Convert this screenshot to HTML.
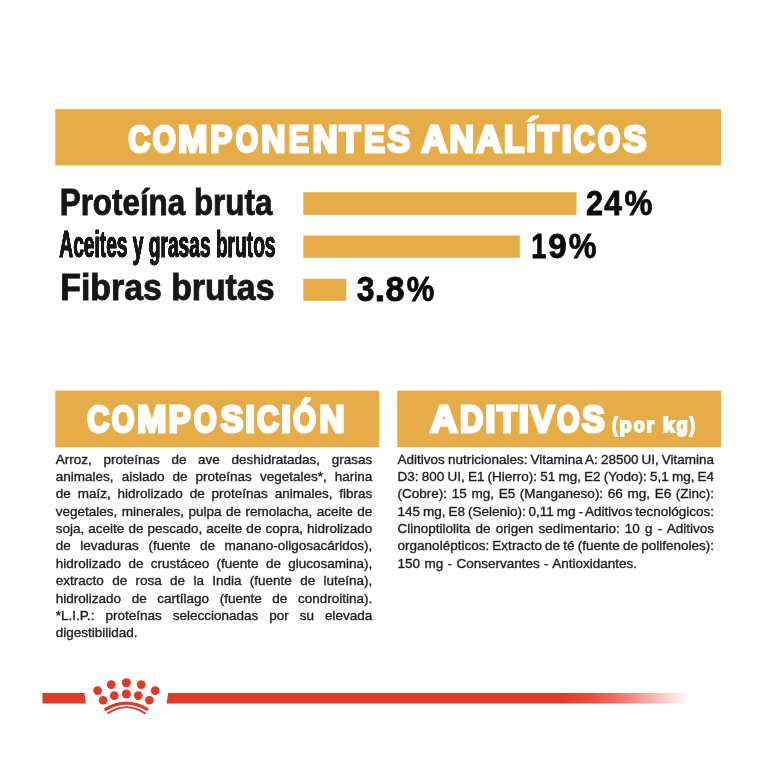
<!DOCTYPE html>
<html lang="es"><head><meta charset="utf-8"><title>Componentes analíticos</title>
<style>
html,body{margin:0;padding:0;background:#fff;}
body{width:780px;height:780px;position:relative;overflow:hidden;font-family:"Liberation Sans",sans-serif;}
svg{position:absolute;left:0;top:0;}
svg text{font-family:"Liberation Sans",sans-serif;font-weight:bold;}
.ln{position:absolute;white-space:nowrap;font-size:13.5px;line-height:16px;height:16px;color:#1d1d1b;-webkit-text-stroke:0.35px #1d1d1b;}
</style></head><body>
<svg width="780" height="780" viewBox="0 0 780 780">
<defs>
<linearGradient id="fade" gradientUnits="userSpaceOnUse" x1="560" y1="0" x2="689" y2="0">
<stop offset="0" stop-color="#DE3A28"/>
<stop offset="0.23" stop-color="#E84D3D"/>
<stop offset="0.44" stop-color="#F36F66"/>
<stop offset="0.64" stop-color="#F9A19B"/>
<stop offset="0.84" stop-color="#FDD3CF"/>
<stop offset="1" stop-color="#FFFFFF"/>
</linearGradient>
<filter id="fat" x="0" y="0" width="780" height="780" filterUnits="userSpaceOnUse"><feOffset in="SourceGraphic" dx="0.25" result="a"/><feOffset in="SourceGraphic" dx="-0.25" result="b"/><feMerge><feMergeNode in="a"/><feMergeNode in="b"/><feMergeNode in="SourceGraphic"/></feMerge></filter>
</defs>
<!-- header bars -->
<rect x="55.3" y="109.2" width="665.8" height="56.2" fill="#E5AC48"/>
<rect x="55.3" y="390.6" width="323.9" height="56.6" fill="#E5AC48"/>
<rect x="397.2" y="390.6" width="324" height="56.6" fill="#E5AC48"/>
<!-- heading text -->
<g fill="#fff" stroke="#fff" stroke-linejoin="miter">
<text aria-label="COMPONENTES ANALÍTICOS" y="151.5" font-size="37.0" stroke-width="3.1"><tspan x="128.43" y="151.5" textLength="21.64" lengthAdjust="spacingAndGlyphs">C</tspan><tspan x="152.73" y="151.5" textLength="23.08" lengthAdjust="spacingAndGlyphs">O</tspan><tspan x="178.12" y="151.5" textLength="29.26" lengthAdjust="spacingAndGlyphs">M</tspan><tspan x="210.18" y="151.5" textLength="21.97" lengthAdjust="spacingAndGlyphs">P</tspan><tspan x="235.63" y="151.5" textLength="22.38" lengthAdjust="spacingAndGlyphs">O</tspan><tspan x="261.17" y="151.5" textLength="24.08" lengthAdjust="spacingAndGlyphs">N</tspan><tspan x="288.74" y="151.5" textLength="20.17" lengthAdjust="spacingAndGlyphs">E</tspan><tspan x="312.64" y="151.5" textLength="24.73" lengthAdjust="spacingAndGlyphs">N</tspan><tspan x="339.55" y="151.5" textLength="20.89" lengthAdjust="spacingAndGlyphs">T</tspan><tspan x="363.92" y="151.5" textLength="20.79" lengthAdjust="spacingAndGlyphs">E</tspan><tspan x="387.44" y="151.5" textLength="22.56" lengthAdjust="spacingAndGlyphs">S</tspan> <tspan x="421.61" y="151.5" textLength="25.84" lengthAdjust="spacingAndGlyphs">A</tspan><tspan x="449.46" y="151.5" textLength="24.41" lengthAdjust="spacingAndGlyphs">N</tspan><tspan x="476.01" y="151.5" textLength="25.74" lengthAdjust="spacingAndGlyphs">A</tspan><tspan x="503.97" y="151.5" textLength="20.26" lengthAdjust="spacingAndGlyphs">L</tspan><tspan x="524.85" y="152.45" font-size="39.8" stroke-width="1.2" textLength="12.60" lengthAdjust="spacingAndGlyphs">Í</tspan><tspan x="537.85" y="151.5" textLength="20.98" lengthAdjust="spacingAndGlyphs">T</tspan><tspan x="561.81" y="151.5" textLength="9.88" lengthAdjust="spacingAndGlyphs">I</tspan><tspan x="573.73" y="151.5" textLength="21.15" lengthAdjust="spacingAndGlyphs">C</tspan><tspan x="597.83" y="151.5" textLength="22.48" lengthAdjust="spacingAndGlyphs">O</tspan><tspan x="623.25" y="151.5" textLength="23.15" lengthAdjust="spacingAndGlyphs">S</tspan></text>
<text aria-label="COMPOSICIÓN" y="432.1" font-size="37.8" stroke-width="3.2"><tspan x="87.14" textLength="22.10" lengthAdjust="spacingAndGlyphs">C</tspan><tspan x="111.84" textLength="22.65" lengthAdjust="spacingAndGlyphs">O</tspan><tspan x="137.14" textLength="29.12" lengthAdjust="spacingAndGlyphs">M</tspan><tspan x="168.38" textLength="22.15" lengthAdjust="spacingAndGlyphs">P</tspan><tspan x="194.04" textLength="22.65" lengthAdjust="spacingAndGlyphs">O</tspan><tspan x="220.46" textLength="22.73" lengthAdjust="spacingAndGlyphs">S</tspan><tspan x="245.34" textLength="9.72" lengthAdjust="spacingAndGlyphs">I</tspan><tspan x="256.94" textLength="21.81" lengthAdjust="spacingAndGlyphs">C</tspan><tspan x="281.14" textLength="9.72" lengthAdjust="spacingAndGlyphs">I</tspan><tspan x="293.34" textLength="22.65" lengthAdjust="spacingAndGlyphs">Ó</tspan><tspan x="319.45" textLength="25.02" lengthAdjust="spacingAndGlyphs">N</tspan></text>
<text aria-label="ADITIVOS" y="432.1" font-size="37.8" stroke-width="3.2"><tspan x="430.26" textLength="27.24" lengthAdjust="spacingAndGlyphs">A</tspan><tspan x="460.11" textLength="23.18" lengthAdjust="spacingAndGlyphs">D</tspan><tspan x="485.30" textLength="10.20" lengthAdjust="spacingAndGlyphs">I</tspan><tspan x="497.03" textLength="20.13" lengthAdjust="spacingAndGlyphs">T</tspan><tspan x="518.80" textLength="10.20" lengthAdjust="spacingAndGlyphs">I</tspan><tspan x="530.47" textLength="23.86" lengthAdjust="spacingAndGlyphs">V</tspan><tspan x="556.94" textLength="22.55" lengthAdjust="spacingAndGlyphs">O</tspan><tspan x="581.96" textLength="22.63" lengthAdjust="spacingAndGlyphs">S</tspan></text>
<text aria-label="(por kg)" y="432.3" font-size="19.5" stroke-width="1.8"><tspan x="612.14" textLength="5.16" lengthAdjust="spacingAndGlyphs">(</tspan><tspan x="619.51" textLength="12.19" lengthAdjust="spacingAndGlyphs">p</tspan><tspan x="633.73" textLength="11.04" lengthAdjust="spacingAndGlyphs">o</tspan><tspan x="646.42" textLength="7.48" lengthAdjust="spacingAndGlyphs">r</tspan> <tspan x="663.01" textLength="11.61" lengthAdjust="spacingAndGlyphs">k</tspan><tspan x="676.39" textLength="11.19" lengthAdjust="spacingAndGlyphs">g</tspan><tspan x="689.80" textLength="5.16" lengthAdjust="spacingAndGlyphs">)</tspan></text>
</g>
<!-- rows -->
<g fill="#161616" stroke="#161616" stroke-linejoin="miter">
<text transform="translate(59.7,215.2) scale(0.853,1)" font-size="36.8" stroke-width="0.9">Proteína bruta</text>
<g filter="url(#fat)"><text transform="translate(59.3,257.3) scale(0.521,1)" font-size="36.8" stroke-width="0.6">Aceites y grasas brutos</text></g>
<text transform="translate(60.3,299.6) scale(0.919,1)" font-size="36.8" stroke-width="0.9">Fibras brutas</text>
<text aria-label="24%" y="214.8" font-size="35.6" stroke-width="0.8" fill="#0a0a0a" stroke="#0a0a0a"><tspan x="585.98" textLength="17.00" lengthAdjust="spacingAndGlyphs">2</tspan><tspan x="604.28" textLength="17.74" lengthAdjust="spacingAndGlyphs">4</tspan><tspan x="624.57" textLength="27.80" lengthAdjust="spacingAndGlyphs">%</tspan></text>
<text aria-label="19%" y="257.6" font-size="35.6" stroke-width="0.8" fill="#0a0a0a" stroke="#0a0a0a"><tspan x="531.20" textLength="15.05" lengthAdjust="spacingAndGlyphs">1</tspan><tspan x="548.22" textLength="18.43" lengthAdjust="spacingAndGlyphs">9</tspan><tspan x="568.77" textLength="27.70" lengthAdjust="spacingAndGlyphs">%</tspan></text>
<text aria-label="3.8%" y="301.0" font-size="35.6" stroke-width="0.8" fill="#0a0a0a" stroke="#0a0a0a"><tspan x="356.83" textLength="17.77" lengthAdjust="spacingAndGlyphs">3</tspan><tspan x="374.58" textLength="10.87" lengthAdjust="spacingAndGlyphs">.</tspan><tspan x="385.60" textLength="19.07" lengthAdjust="spacingAndGlyphs">8</tspan><tspan x="406.68" textLength="27.49" lengthAdjust="spacingAndGlyphs">%</tspan></text>
</g>
<rect x="303.3" y="192.2" width="273.2" height="22.6" fill="#E5AC48"/>
<rect x="303.3" y="235.5" width="216.5" height="22.2" fill="#E5AC48"/>
<rect x="303.3" y="278.8" width="43" height="22" fill="#E5AC48"/>
<!-- red line -->
<polygon points="42.5,693.1 84.5,693.1 85.8,703.6 42.5,703.6" fill="#DE3A28"/>
<polygon points="168.2,693.1 690,693.1 690,703.6 166.5,703.6" fill="url(#fade)"/>
<!-- crown -->
<g fill="#DE3A28">
<circle cx="97.6" cy="690.6" r="4.4"/><circle cx="111.25" cy="684.6" r="4.4"/><circle cx="126.4" cy="682.7" r="4.55"/><circle cx="141.25" cy="684.6" r="4.4"/><circle cx="155.2" cy="690.6" r="4.4"/>
<circle cx="103.1" cy="700.25" r="4.35"/><circle cx="114.3" cy="695.6" r="4.35"/><circle cx="126.4" cy="694" r="4.5"/><circle cx="138.3" cy="695.6" r="4.35"/><circle cx="149.4" cy="700.25" r="4.35"/>
</g>
<g fill="none" stroke="#DE3A28" stroke-linecap="round">
<path d="M105.8,709.2 Q126.3,697 146.8,709.2" stroke-width="3.3"/>
<path d="M107.9,713.3 Q126.45,700.9 145,713.3" stroke-width="1.9"/>
</g>
</svg>
<div class="ln" style="left:55.8px;top:452.00px;word-spacing:7.916px;">Arroz, proteínas de ave deshidratadas, grasas</div>
<div class="ln" style="left:55.8px;top:469.00px;word-spacing:4.312px;">animales, aislado de proteínas vegetales*, harina</div>
<div class="ln" style="left:55.8px;top:486.00px;word-spacing:3.096px;">de maíz, hidrolizado de proteínas animales, fibras</div>
<div class="ln" style="left:55.8px;top:504.00px;word-spacing:0.719px;">vegetales, minerales, pulpa de remolacha, aceite de</div>
<div class="ln" style="left:55.8px;top:521.00px;word-spacing:0.290px;">soja, aceite de pescado, aceite de copra, hidrolizado</div>
<div class="ln" style="left:55.8px;top:538.00px;word-spacing:5.766px;">de levaduras (fuente de manano-oligosacáridos),</div>
<div class="ln" style="left:55.8px;top:556.00px;word-spacing:3.562px;">hidrolizado de crustáceo (fuente de glucosamina),</div>
<div class="ln" style="left:55.8px;top:573.00px;word-spacing:4.570px;">extracto de rosa de la India (fuente de luteína),</div>
<div class="ln" style="left:55.8px;top:591.00px;word-spacing:6.862px;">hidrolizado de cartílago (fuente de condroitina).</div>
<div class="ln" style="left:55.8px;top:608.00px;word-spacing:7.213px;">*L.I.P.: proteínas seleccionadas por su elevada</div>
<div class="ln" style="left:55.8px;top:625.00px;">digestibilidad.</div>
<div class="ln" style="left:397.6px;top:452.00px;word-spacing:-0.698px;">Aditivos nutricionales: Vitamina A: 28500 UI, Vitamina</div>
<div class="ln" style="left:397.6px;top:469.00px;word-spacing:-0.582px;">D3: 800 UI, E1 (Hierro): 51 mg, E2 (Yodo): 5,1 mg, E4</div>
<div class="ln" style="left:397.6px;top:486.00px;word-spacing:0.922px;">(Cobre): 15 mg, E5 (Manganeso): 66 mg, E6 (Zinc):</div>
<div class="ln" style="left:397.6px;top:504.00px;word-spacing:-0.834px;">145 mg, E8 (Selenio): 0,11 mg - Aditivos tecnológicos:</div>
<div class="ln" style="left:397.6px;top:521.00px;word-spacing:1.475px;">Clinoptilolita de origen sedimentario: 10 g - Aditivos</div>
<div class="ln" style="left:397.6px;top:538.00px;word-spacing:-0.534px;">organolépticos: Extracto de té (fuente de polifenoles):</div>
<div class="ln" style="left:397.6px;top:556.00px;word-spacing:0.6px;">150 mg - Conservantes - Antioxidantes.</div>
</body></html>
